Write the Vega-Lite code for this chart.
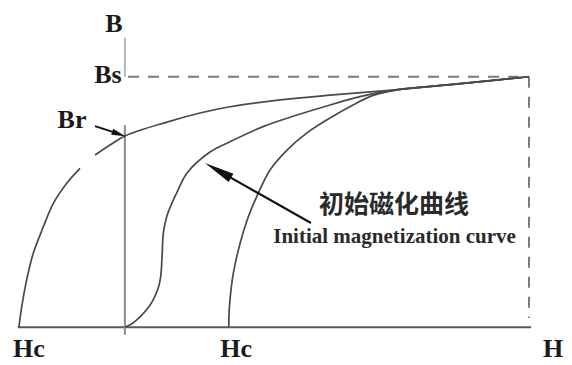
{
  "$schema": "https://vega.github.io/schema/vega-lite/v6.json",
  "width": 572,
  "height": 365,
  "padding": 0,
  "autosize": {"type": "fit", "contains": "padding"},
  "background": "white",
  "config": {"view": {"stroke": null}},
  "datasets": {
    "curves": [
      {"c": "descA", "h": -101, "b": 0},
      {"c": "descA", "h": -98.3, "b": 8.2},
      {"c": "descA", "h": -93.6, "b": 18.8},
      {"c": "descA", "h": -87.3, "b": 29.4},
      {"c": "descA", "h": -77.7, "b": 39.9},
      {"c": "descA", "h": -68.2, "b": 49.2},
      {"c": "descA", "h": -55.4, "b": 57.2},
      {"c": "descA", "h": -42.8, "b": 63.1},
      {"c": "descB", "h": -28.5, "b": 68.4},
      {"c": "descB", "h": -14.2, "b": 72.4},
      {"c": "descB", "h": 0, "b": 76},
      {"c": "descB", "h": 40.1, "b": 81.5},
      {"c": "descB", "h": 71.6, "b": 85.1},
      {"c": "descB", "h": 100.1, "b": 87.6},
      {"c": "descB", "h": 147.8, "b": 90.3},
      {"c": "descB", "h": 195.4, "b": 92.2},
      {"c": "descB", "h": 233.5, "b": 93.5},
      {"c": "descB", "h": 262, "b": 94.5},
      {"c": "descB", "h": 312.6, "b": 96.5},
      {"c": "descB", "h": 385, "b": 99.5},
      {"c": "initial", "h": 0, "b": 0},
      {"c": "initial", "h": 7.7, "b": 1.7},
      {"c": "initial", "h": 14.4, "b": 4.1},
      {"c": "initial", "h": 22, "b": 7.6},
      {"c": "initial", "h": 26.8, "b": 10.8},
      {"c": "initial", "h": 31.8, "b": 15.6},
      {"c": "initial", "h": 34.1, "b": 20.1},
      {"c": "initial", "h": 35.4, "b": 27.9},
      {"c": "initial", "h": 36.6, "b": 37.3},
      {"c": "initial", "h": 39.8, "b": 43.9},
      {"c": "initial", "h": 44.9, "b": 49.4},
      {"c": "initial", "h": 50.6, "b": 54.5},
      {"c": "initial", "h": 59.2, "b": 61.3},
      {"c": "initial", "h": 81.1, "b": 69.6},
      {"c": "initial", "h": 100.1, "b": 73.7},
      {"c": "initial", "h": 131.6, "b": 79.7},
      {"c": "initial", "h": 164, "b": 84.3},
      {"c": "initial", "h": 195.4, "b": 88.3},
      {"c": "initial", "h": 224, "b": 91.6},
      {"c": "initial", "h": 240.2, "b": 93.1},
      {"c": "initial", "h": 262, "b": 94.5},
      {"c": "initial", "h": 312.6, "b": 96.5},
      {"c": "initial", "h": 385, "b": 99.5},
      {"c": "asc", "h": 99, "b": 0},
      {"c": "asc", "h": 99.2, "b": 4.9},
      {"c": "asc", "h": 100.1, "b": 10.8},
      {"c": "asc", "h": 103.3, "b": 21.4},
      {"c": "asc", "h": 109.7, "b": 33.3},
      {"c": "asc", "h": 117.6, "b": 43.9},
      {"c": "asc", "h": 125.6, "b": 51.9},
      {"c": "asc", "h": 138.3, "b": 62.5},
      {"c": "asc", "h": 154.5, "b": 70.4},
      {"c": "asc", "h": 173.5, "b": 77.2},
      {"c": "asc", "h": 195.4, "b": 83.1},
      {"c": "asc", "h": 217.3, "b": 88.3},
      {"c": "asc", "h": 236.4, "b": 92.1},
      {"c": "asc", "h": 262, "b": 94.5},
      {"c": "asc", "h": 312.6, "b": 96.5},
      {"c": "asc", "h": 385, "b": 99.5}
    ],
    "axes": [
      {"k": "H axis", "h": -102, "b": 0, "h2": 387, "b2": 0},
      {"k": "B axis", "h": 0, "b": 80.3, "h2": 0, "b2": -3},
      {"k": "B axis top", "h": 0, "b": 115, "h2": 0, "b2": 99.5}
    ],
    "dashed": [
      {"k": "Bs", "h": 3, "b": 99.5, "h2": 385, "b2": 99.5},
      {"k": "Hmax", "h": 385, "b": 99.5, "h2": 385, "b2": 3.7}
    ],
    "arrowLong": [{"h": 177.3, "b": 41.4, "h2": 88.7, "b2": 62.3}],
    "arrowBr": [{"h": -28.5, "b": 79.9, "h2": -5.8, "b2": 76.8}],
    "labels": [
      {"t": "B", "h": -10.4, "b": 117.3},
      {"t": "Bs", "h": -16.1, "b": 97.0},
      {"t": "Br", "h": -50.4, "b": 79.2},
      {"t": "Hc", "h": -91.4, "b": -11.8},
      {"t": "Hc", "h": 105.9, "b": -11.8},
      {"t": "H", "h": 407.9, "b": -11.8}
    ],
    "zh": [{"t": "初始磁化曲线", "h": 256.4, "b": 48.6}],
    "en": [{"t": "Initial magnetization curve", "h": 256.9, "b": 33.5}]
  },
  "encoding": {
    "x": {"field": "h", "type": "quantitative", "scale": {"domain": [-119, 426], "nice": false, "zero": false}, "axis": null},
    "y": {"field": "b", "type": "quantitative", "scale": {"domain": [-15, 130], "nice": false, "zero": false}, "axis": null}
  },
  "layer": [
    {
      "data": {"name": "axes"},
      "mark": {"type": "rule"},
      "encoding": {
        "x2": {"field": "h2"},
        "y2": {"field": "b2"},
        "color": {"field": "k", "type": "nominal", "scale": {"domain": ["H axis", "B axis", "B axis top"], "range": ["#5a5a5a", "#8c8c8c", "#b8b8b8"]}, "legend": null},
        "strokeWidth": {"field": "k", "type": "nominal", "scale": {"domain": ["H axis", "B axis", "B axis top"], "range": [2, 2, 1.5]}, "legend": null}
      }
    },
    {
      "data": {"name": "dashed"},
      "mark": {"type": "rule", "color": "#7a7a7a", "strokeWidth": 2, "strokeDash": [11, 9]},
      "encoding": {"x2": {"field": "h2"}, "y2": {"field": "b2"}}
    },
    {
      "data": {"name": "curves"},
      "mark": {"type": "line", "color": "#4a4a4a", "strokeWidth": 1.7, "interpolate": "catmull-rom"},
      "encoding": {"detail": {"field": "c", "type": "nominal"}}
    },
    {
      "data": {"name": "arrowLong"},
      "mark": {"type": "rule", "color": "#111111", "strokeWidth": 2.2},
      "encoding": {"x2": {"field": "h2"}, "y2": {"field": "b2"}}
    },
    {
      "data": {"name": "arrowLong"},
      "mark": {"type": "point", "filled": true, "opacity": 1, "color": "#111111", "shape": "M0,-1L0.32,1L-0.32,1Z", "size": 900, "angle": 299.5},
      "encoding": {"x": {"field": "h2", "type": "quantitative"}, "y": {"field": "b2", "type": "quantitative"}}
    },
    {
      "data": {"name": "arrowBr"},
      "mark": {"type": "rule", "color": "#111111", "strokeWidth": 2},
      "encoding": {"x2": {"field": "h2"}, "y2": {"field": "b2"}}
    },
    {
      "data": {"name": "arrowBr"},
      "mark": {"type": "point", "filled": true, "opacity": 1, "color": "#111111", "shape": "M0,-1L0.45,1L-0.45,1Z", "size": 196, "angle": 108.4},
      "encoding": {"x": {"field": "h2", "type": "quantitative"}, "y": {"field": "b2", "type": "quantitative"}}
    },
    {
      "data": {"name": "labels"},
      "mark": {"type": "text", "font": "Liberation Serif", "fontWeight": "bold", "fontSize": 26, "color": "#1a1a1a", "align": "center", "baseline": "alphabetic"},
      "encoding": {"text": {"field": "t"}}
    },
    {
      "data": {"name": "zh"},
      "mark": {"type": "text", "font": "Noto Sans CJK SC", "fontWeight": "bold", "fontSize": 25, "color": "#2a2a2a", "align": "center", "baseline": "middle"},
      "encoding": {"text": {"field": "t"}}
    },
    {
      "data": {"name": "en"},
      "mark": {"type": "text", "font": "Liberation Serif", "fontWeight": "bold", "fontSize": 21, "color": "#2a2a2a", "align": "center", "baseline": "alphabetic"},
      "encoding": {"text": {"field": "t"}}
    }
  ]
}
